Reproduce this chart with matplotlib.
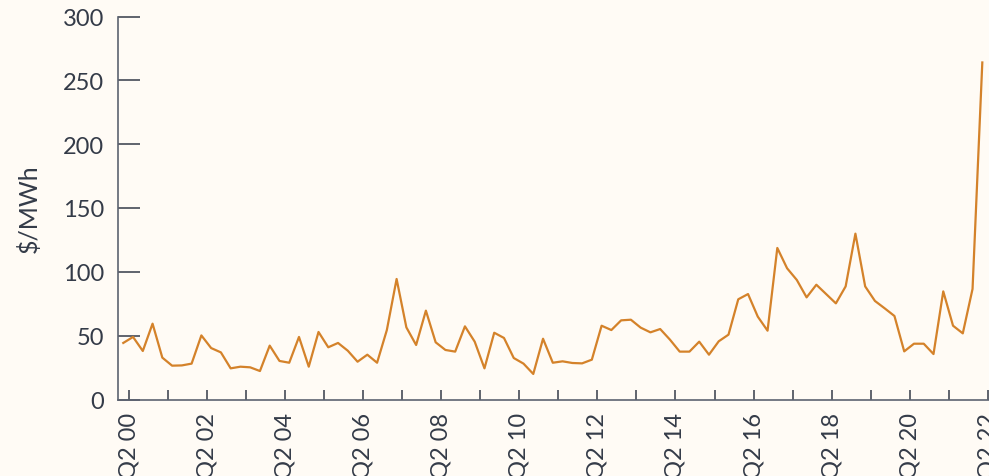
import matplotlib
matplotlib.use('Agg')
import matplotlib.pyplot as plt
import numpy as np

plt.rcParams['font.family'] = ['Lato', 'DejaVu Sans']

# quarterly price, Q2 2000 .. Q2 2022 ($/MWh)
price = [44.3, 49.0, 38.0, 59.4, 32.8, 26.5, 26.7, 28.1, 50.2, 40.3,
         36.9, 24.4, 25.7, 25.2, 22.3, 42.2, 30.2, 28.8, 49.0, 25.7,
         52.9, 40.9, 44.3, 38.2, 29.6, 35.1, 28.8, 54.4, 94.4, 56.5,
         42.7, 69.6, 44.8, 38.8, 37.5, 57.3, 45.3, 24.4, 52.3, 48.2,
         32.5, 28.1, 20.0, 47.6, 28.8, 29.9, 28.6, 28.3, 31.2, 57.8,
         54.4, 62.0, 62.5, 56.3, 52.6, 55.2, 46.9, 37.5, 37.5, 45.3,
         35.1, 45.6, 50.8, 78.5, 82.6, 64.9, 53.9, 118.7, 102.8, 93.6,
         80.0, 89.9, 82.6, 75.3, 88.6, 129.9, 88.6, 77.2, 71.4, 65.4,
         37.7, 43.7, 43.7, 35.6, 84.7, 57.8, 51.8, 86.6, 264.0]
tick_labels = ['Q2 00', 'Q2 02', 'Q2 04', 'Q2 06', 'Q2 08', 'Q2 10',
               'Q2 12', 'Q2 14', 'Q2 16', 'Q2 18', 'Q2 20', 'Q2 22']

bg = '#fffbf5'
dark = '#343b48'
x = np.arange(len(price))

fig = plt.figure(figsize=(9.89, 4.77), dpi=100, facecolor=bg)
ax = fig.add_axes([118.3 / 989, 76.5 / 477, (995 - 118.3) / 989, 383 / 477])
ax.set_facecolor(bg)
ax.plot(x, price, color='#d4822a', lw=1.6, clip_on=False, zorder=3)

off = 0.57
ax.set_xlim(-0.51, 89.3)
ax.set_ylim(0, 300)
ax.set_xticks(off + np.arange(0, 89, 4))
ax.set_xticklabels([lab if i % 2 == 0 else '' for i, lab in
                    enumerate([t for t in tick_labels for _ in (0, 1)][:23])],
                   rotation=90)
ax.set_yticks(np.arange(0, 301, 50))

for s in ['top', 'right']:
    ax.spines[s].set_visible(False)
for s in ['left', 'bottom']:
    ax.spines[s].set_color('#5c6370')
    ax.spines[s].set_linewidth(1.2)

ax.tick_params(axis='y', direction='in', length=16, width=1.1, color=dark,
               labelsize=17, labelcolor=dark, pad=10)
ax.tick_params(axis='x', direction='in', length=7, width=1.1, color=dark,
               labelsize=17, labelcolor=dark, pad=9)
ax.set_ylabel('$/MWh', fontsize=18, color=dark, labelpad=16)

fig.savefig('out.png', dpi=100, facecolor=bg)
